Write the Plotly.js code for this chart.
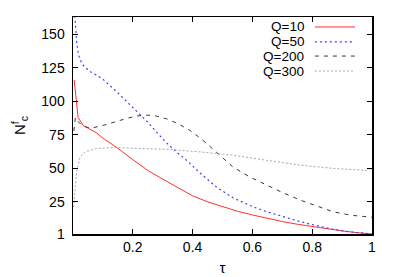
<!DOCTYPE html>
<html>
<head>
<meta charset="utf-8">
<script src="https://cdn.plot.ly/plotly-3.0.1.min.js"></script>
<style>html,body{margin:0;padding:0;background:#fff;}#chart{width:396px;height:277px;}</style>
</head>
<body>
<div id="chart"></div>
<script>
// Q=10
const tauQ10 = [0.004, 0.01, 0.017, 0.034, 0.05, 0.079, 0.1, 0.15, 0.2, 0.25, 0.3, 0.35, 0.4, 0.45, 0.5, 0.55, 0.6, 0.65, 0.7, 0.75, 0.8, 0.85, 0.9, 0.95, 1.0];
const valQ10 = [116, 101, 88, 82, 80, 76.5, 72.5, 65, 56.5, 48.5, 42, 35.5, 29.5, 25, 21.5, 18, 15.2, 12.6, 10.3, 8.3, 6.5, 4.8, 3.3, 2, 1];
// Q=50
const tauQ50 = [0.003, 0.007, 0.012, 0.018, 0.03, 0.04, 0.06, 0.08, 0.1, 0.14, 0.18, 0.2, 0.224, 0.25, 0.29, 0.313, 0.35, 0.38, 0.425, 0.48, 0.535, 0.6, 0.648, 0.7, 0.76, 0.8, 0.87, 0.93, 1.0];
const valQ50 = [175, 160, 145, 135, 128, 125.5, 122, 119.5, 116.5, 108.5, 100, 95.5, 90.5, 84.5, 74.5, 69, 61.5, 56, 46.5, 36, 28, 21.5, 17.6, 14, 10.2, 8, 4.5, 2.5, 1];
// Q=200
const tauQ200 = [0.003, 0.008, 0.015, 0.03, 0.05, 0.07, 0.1, 0.124, 0.15, 0.18, 0.21, 0.25, 0.28, 0.313, 0.35, 0.39, 0.42, 0.447, 0.5, 0.535, 0.59, 0.648, 0.7, 0.76, 0.8, 0.87, 0.93, 1.0];
const valQ200 = [78, 88, 85.5, 82, 80.5, 80.5, 82, 83.7, 85.5, 87.3, 89, 89.8, 89, 87, 83.5, 78.5, 73.5, 68.6, 58, 51, 43.7, 37.5, 32, 26.3, 23, 17.6, 15, 13.5];
// Q=300
const tauQ300 = [0.002, 0.007, 0.013, 0.024, 0.04, 0.08, 0.14, 0.2, 0.31, 0.425, 0.535, 0.648, 0.76, 0.87, 0.95, 0.98, 1.0];
const valQ300 = [21, 36, 48.7, 58.6, 62.3, 64.9, 65.6, 65, 64.3, 62.3, 59.9, 56, 52.4, 50, 48.8, 48.5, 50];

const seriesNames = ["Q=10", "Q=50", "Q=200", "Q=300"];
const xTicks = [0.2, 0.4, 0.6, 0.8, 1];
const xTickText = ["0.2", "0.4", "0.6", "0.8", "1"];
const yTicks = [1, 25, 50, 75, 100, 125, 150];
const yTickText = ["1", "25", "50", "75", "100", "125", "150"];

const styles = [
  {color: "#ff3030", width: 1, dash: "solid"},
  {color: "#4040ff", width: 1.2, dash: "2px,3px"},
  {color: "#383838", width: 1, dash: "4px,5px"},
  {color: "#a8a8a8", width: 1, dash: "2px,2px"}
];
const xs = [tauQ10, tauQ50, tauQ200, tauQ300];
const ys = [valQ10, valQ50, valQ200, valQ300];

const traces = seriesNames.map((n, i) => ({
  x: xs[i], y: ys[i], name: n, type: "scatter", mode: "lines",
  line: {color: styles[i].color, width: styles[i].width, dash: styles[i].dash},
  showlegend: false, cliponaxis: true
}));

const legY = [0.954, 0.885, 0.820, 0.751];
const shapes = [];
const annotations = [];
seriesNames.forEach((n, i) => {
  shapes.push({type: "line", xref: "paper", yref: "paper", x0: 0.809, x1: 0.943, y0: legY[i], y1: legY[i],
    line: {color: styles[i].color, width: styles[i].width, dash: styles[i].dash}});
  annotations.push({xref: "paper", yref: "paper", x: 0.776, y: legY[i], xanchor: "right", yanchor: "middle",
    text: n, showarrow: false, borderpad: 0,
    font: {family: "Liberation Sans, Arial, sans-serif", size: 13.5, color: "#000"}});
});

const font = {family: "Liberation Sans, Arial, sans-serif", size: 14, color: "#000"};
const titleFont = {family: "Liberation Sans, Arial, sans-serif", size: 15, color: "#000"};
const layout = {
  width: 396, height: 277,
  margin: {l: 73, r: 24, t: 17, b: 43},
  paper_bgcolor: "#fff", plot_bgcolor: "#fff",
  font: font,
  showlegend: false,
  xaxis: {
    range: [0, 1], tickvals: xTicks, ticktext: xTickText,
    ticks: "inside", ticklen: 5, tickwidth: 1, tickcolor: "#000",
    showline: true, linecolor: "#000", linewidth: 1.5, mirror: "ticks",
    showgrid: false, zeroline: false, tickfont: font,
    title: {text: "τ", font: titleFont, standoff: 8}
  },
  yaxis: {
    range: [1, 163], tickvals: yTicks, ticktext: yTickText,
    ticks: "inside", ticklen: 5, tickwidth: 1, tickcolor: "#000",
    showline: true, linecolor: "#000", linewidth: 1.5, mirror: "ticks",
    showgrid: false, zeroline: false, tickfont: font, ticklabelstandoff: 4,
    title: {text: "N<sup>f</sup><sub>c</sub>", font: titleFont, standoff: 12}
  },
  shapes: shapes,
  annotations: annotations
};
Plotly.newPlot("chart", traces, layout, {staticPlot: true, displayModeBar: false});
</script>
</body>
</html>
